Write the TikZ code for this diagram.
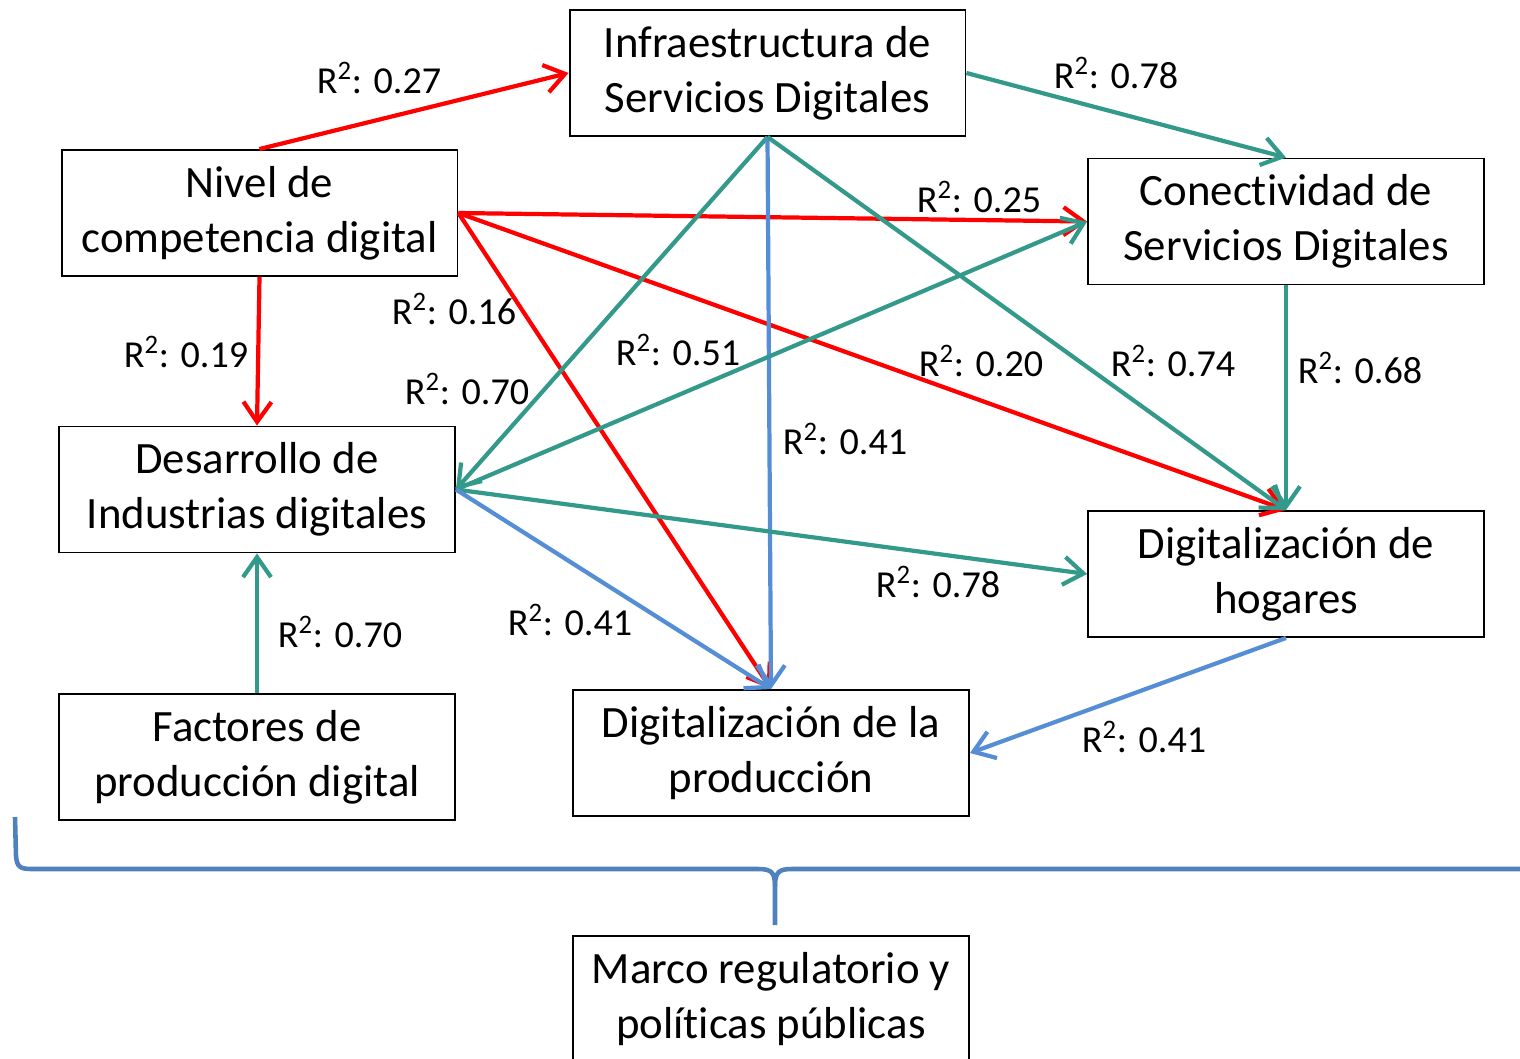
\documentclass[tikz,border=0pt]{standalone}
\usepackage{fontspec}
\setmainfont{Carlito}[Ligatures=NoCommon]
\usetikzlibrary{arrows.meta}
\definecolor{rojo}{RGB}{255,0,0}
\definecolor{verde}{RGB}{51,153,138}
\definecolor{azul}{RGB}{85,142,213}
\definecolor{llave}{RGB}{79,129,189}
\tikzstyle{caja} = [draw, line width=1.1pt, minimum width=7.92cm, minimum height=2.52cm, align=center, inner sep=0pt, font=\fontsize{25.5}{31.2}\selectfont]
\tikzstyle{flecha} = [line width=2.4pt, -{Straight Barb[length=4mm,width=5.6mm]}]
\tikzstyle{etiq} = [inner sep=0pt, font=\fontsize{21.7}{24}\selectfont]

\begin{document}
\begin{tikzpicture}[x=0.02cm,y=-0.02cm]
			\useasboundingbox (0,0) rectangle (1520,1058);
			\node[caja] (infra) at (767.5,73) {Infraestructura de\\Servicios Digitales};
			\node[caja] (nivel) at (259.5,213) {Nivel de\\competencia digital};
			\node[caja] (conect) at (1286,221.5) {Conectividad de\\Servicios Digitales};
			\node[caja] (desarr) at (257,489.5) {Desarrollo de\\Industrias digitales};
			\node[caja] (hogar) at (1286,574) {Digitalización de\\hogares};
			\node[caja] (factor) at (257,757) {Factores de\\producción digital};
			\node[caja] (produc) at (771,753) {Digitalización de la\\producción};
			\node[caja] (marco) at (771,999) {Marco regulatorio y\\políticas públicas};
			\draw[flecha,rojo] (nivel.north) -- (infra.west);
			\draw[flecha,verde] (infra.east) -- (conect.north);
			\draw[flecha,rojo] (nivel.east) -- (conect.west);
			\draw[flecha,rojo] (nivel.east) -- (hogar.north);
			\draw[flecha,rojo] (nivel.east) -- (produc.north);
			\draw[flecha,rojo] (nivel.south) -- (desarr.north);
			\draw[flecha,verde] (infra.south) -- (desarr.east);
			\draw[flecha,azul] (infra.south) -- (produc.north);
			\draw[flecha,verde] (infra.south) -- (hogar.north);
			\draw[flecha,verde] (conect.south) -- (hogar.north);
			\draw[flecha,verde] (desarr.east) -- (conect.west);
			\draw[flecha,verde] (desarr.east) -- (hogar.west);
			\draw[flecha,azul] (desarr.east) -- (produc.north);
			\draw[flecha,azul] (hogar.south) -- (produc.east);
			\draw[flecha,verde] (factor.north) -- (desarr.south);
			\node[etiq] (r1) at (379,78) {R\textsuperscript{2}: 0.27};
			\node[etiq] (r2) at (1116,73) {R\textsuperscript{2}: 0.78};
			\node[etiq] (r3) at (979,197) {R\textsuperscript{2}: 0.25};
			\node[etiq] (r4) at (454,309) {R\textsuperscript{2}: 0.16};
			\node[etiq] (r5) at (186,352) {R\textsuperscript{2}: 0.19};
			\node[etiq] (r6) at (678,350) {R\textsuperscript{2}: 0.51};
			\node[etiq] (r7) at (467,389) {R\textsuperscript{2}: 0.70};
			\node[etiq] (r8) at (981,361) {R\textsuperscript{2}: 0.20};
			\node[etiq] (r9) at (1173,361) {R\textsuperscript{2}: 0.74};
			\node[etiq] (r10) at (1360,368) {R\textsuperscript{2}: 0.68};
			\node[etiq] (r11) at (845,439) {R\textsuperscript{2}: 0.41};
			\node[etiq] (r12) at (938,582) {R\textsuperscript{2}: 0.78};
			\node[etiq] (r13) at (570,620) {R\textsuperscript{2}: 0.41};
			\node[etiq] (r14) at (340,632) {R\textsuperscript{2}: 0.70};
			\node[etiq] (r15) at (1144,737) {R\textsuperscript{2}: 0.41};
			\draw[llave,line width=2.6pt] (15,817) -- (16,856) .. controls (17,867) and (20,869) .. (32,869) -- (758,869) .. controls (771,869) and (775,872) .. (775,886) -- (775,925);
			\draw[llave,line width=2.6pt] (775,886) .. controls (775,872) and (779,869) .. (792,869) -- (1525,869);
		\end{tikzpicture}
\end{document}
